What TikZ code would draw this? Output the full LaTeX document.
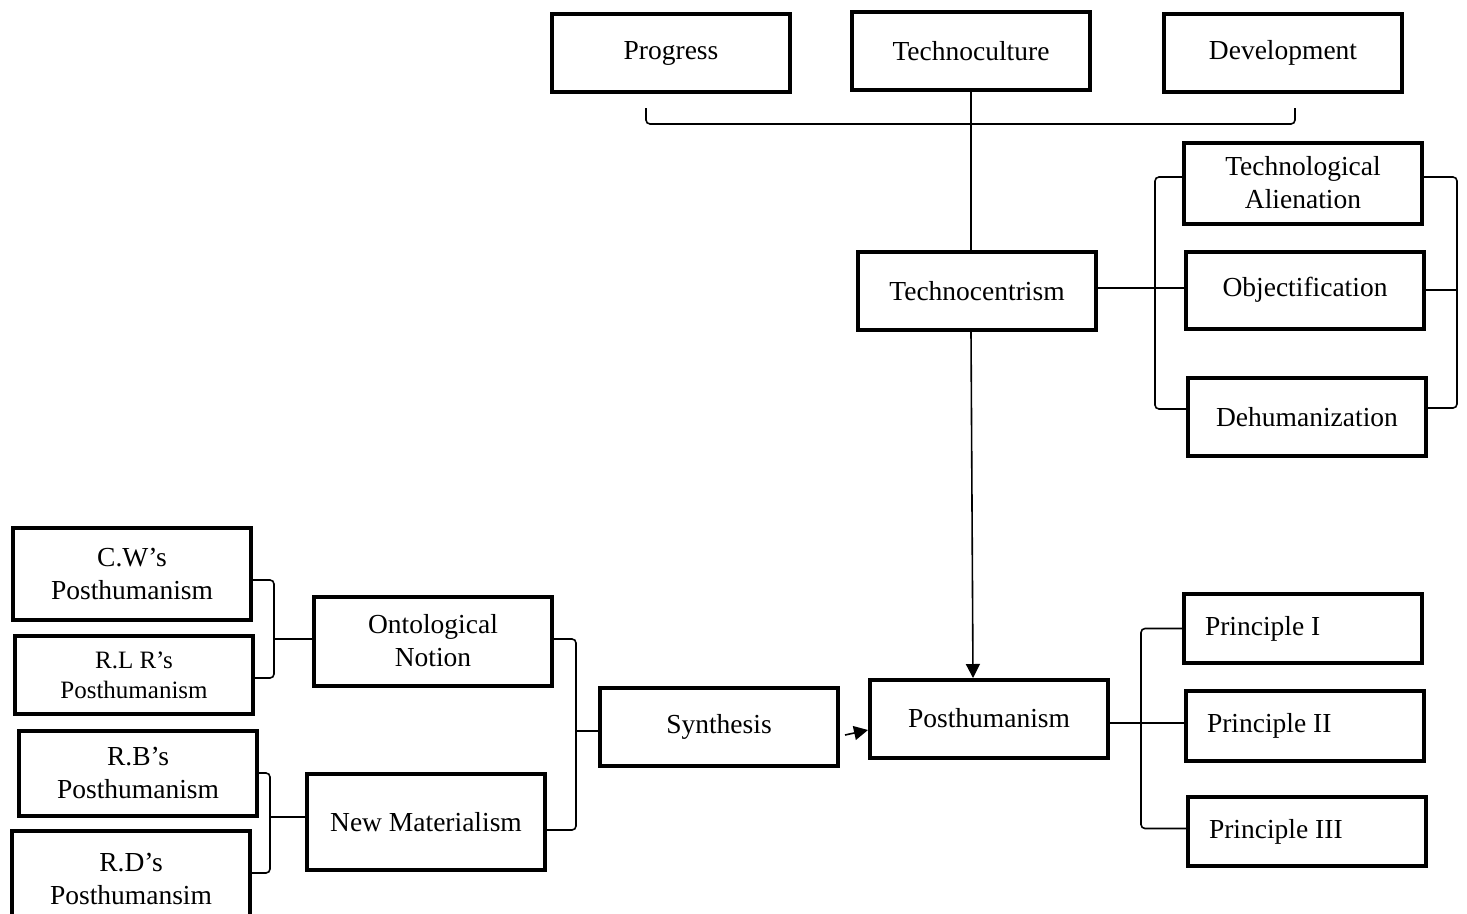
\documentclass[tikz,border=0pt]{standalone}
\usepackage{fontspec}
\setmainfont{Liberation Serif}
\usetikzlibrary{arrows.meta,calc}
\begin{document}
\begin{tikzpicture}[x=1pt,y=-1pt,
 box/.style={draw,line width=4pt,minimum width=238pt,minimum height=78pt,inner sep=2pt,align=center,font=\fontsize{27.5}{33}\selectfont},
 conn/.style={line width=1.6pt},
 brk/.style={conn,rounded corners=4pt},
 arr/.style={conn,-{Triangle[length=14pt,width=14pt]}}]
\useasboundingbox (0,0) rectangle (1467,913);

% top row
\node[box] (prog) at (671,53) {Progress};
\node[box] (tcul) at (971,51) {Technoculture};
\node[box] (dev) at (1283,53) {Development};

% middle
\node[box] (tcen) at (977,291) {Technocentrism};
\node[box,minimum height=81pt] (ta) at (1303,183) {Technological\\Alienation};
\node[box,minimum height=77pt] (obj) at (1305,290) {Objectification};
\node[box] (deh) at (1307,417) {Dehumanization};

% bottom
\node[box] (post) at (989,719) {\raisebox{3pt}{Posthumanism}};
\node[box] (syn) at (719,727) {Synthesis};
\node[box,minimum height=89pt] (onto) at (433,641) {Ontological\\Notion};
\node[box,minimum height=96pt] (newm) at (426,822) {New Materialism};
\node[box,minimum height=92pt] (cw) at (132,574) {C.W’s\\Posthumanism};
\node[box,font=\fontsize{25}{30}\selectfont] (rlr) at (134,675) {R.L R’s\\Posthumanism};
\node[box,minimum height=85pt] (rb) at (138,773) {R.B’s\\Posthumanism};
\node[box,minimum height=96pt] (rd) at (131,879) {R.D’s\\Posthumansim};
\node[box,minimum height=69pt] (p1) at (1303,628.5) {\makebox[196pt][l]{Principle I}};
\node[box,minimum height=70pt] (p2) at (1305,726) {\makebox[196pt][l]{Principle II}};
\node[box,minimum height=69pt] (p3) at (1307,831.5) {\makebox[196pt][l]{Principle III}};

% coordinates for brackets
\coordinate (tb1) at (646,108);
\coordinate (tb2) at (1295,108);
\coordinate (bl) at (1155,0);
\coordinate (br) at (1457,0);
\coordinate (bs) at (576,0);
\coordinate (bo) at (274,0);
\coordinate (bn) at (270,0);
\coordinate (bp) at (1141,0);
\coordinate (taw) at ([yshift=6pt]ta.west);
\coordinate (tae) at ([yshift=6pt]ta.east);

% top bracket
\draw[brk] (tb1) -- (646,124) -- (1295,124) -- (tb2);
\draw[conn] (tcul.south) -- (tcul.south |- tcen.north);
\draw[arr] (tcul.south |- tcen.south) -- ([xshift=-16pt]post.north);

% technocentrism brackets
\draw[brk] (taw) -- (taw -| bl) |- ([yshift=8pt]deh.west);
\draw[conn] ([yshift=3pt]tcen.east) -- ([yshift=3pt]tcen.east -| obj.west);
\draw[brk] (tae) -- (tae -| br) |- ([yshift=9pt]deh.east);
\draw[conn] (obj.east) -- (obj.east -| br);

% synthesis
\draw[arr] ($(syn.east)+(5,8)$) -- ($(post.west)+(0,11)$);
\draw[brk] ([yshift=2pt]onto.east) -- ([yshift=2pt]onto.east -| bs) |- ([yshift=-8pt]newm.east);
\draw[conn] ([yshift=-4pt]syn.west) -- ([yshift=-4pt]syn.west -| bs);

% left brackets
\draw[brk] ([yshift=-6pt]cw.east) -- ([yshift=-6pt]cw.east -| bo) |- ([yshift=-3pt]rlr.east);
\draw[conn] ([yshift=2pt]onto.west) -- ([yshift=2pt]onto.west -| bo);
\draw[brk] (rb.east) -- (rb.east -| bn) |- ([yshift=6pt]rd.east);
\draw[conn] ([yshift=5pt]newm.west) -- ([yshift=5pt]newm.west -| bn);

% principles bracket
\draw[brk] (p1.west) -- (p1.west -| bp) |- ([yshift=3pt]p3.west);
\draw[conn] ([yshift=-4pt]post.east) -- ([yshift=-4pt]post.east -| p2.west);
\end{tikzpicture}
\end{document}
